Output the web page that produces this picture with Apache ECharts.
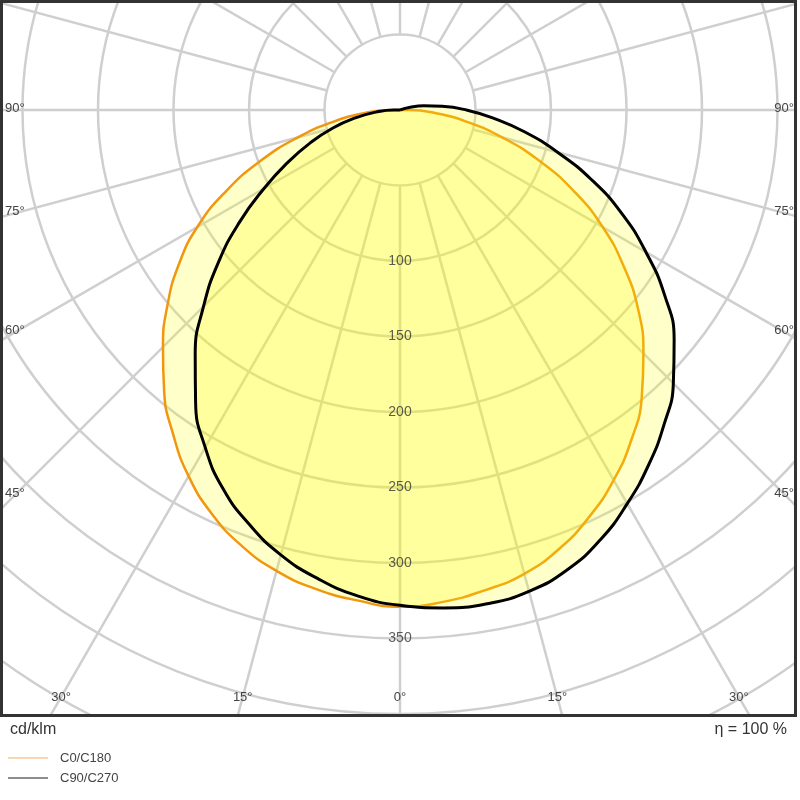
<!DOCTYPE html>
<html><head><meta charset="utf-8">
<script src="https://cdn.jsdelivr.net/npm/echarts@6/dist/echarts.min.js"></script>
<style>html,body{margin:0;padding:0;background:#fff}#c{width:800px;height:800px}</style>
</head><body><div id="c"></div>
<script>
// angles in degrees, 0 = straight down, positive = right side
const anglesO = [-90,-85,-80,-75,-70,-65,-60,-55,-50,-45,-40,-35,-30,-25,-20,-15,-10,-5,0,5,10,15,20,25,30,35,40,45,50,55,60,65,70,75,80,85,90];
const c0c180 = [6,24,45,70,98,127,155,179,201,222,243,262,280,295,307,316,322,326,329,327,323,318,309,297,283,267,249,228,206,181,155,127,98,70,45,24,6];
const anglesB = [-90,-85,-80,-75,-70,-65,-60,-55,-50,-45,-40,-35,-30,-25,-20,-15,-10,-5,0,5,10,15,20,25,30,35,40,45,50,55,60,65,70,75,80,85,90,95,100,105,110];
const c90c270 = [4,16,30,46,63,82,104,130,157,184,211,236,258,277,292,305,315,323,328,331,332,330,324,314,301,287,272,256,237,214,188,162,135,108,84,62,44,28,16,7,0];
const radiusTicks = [100,150,200,250,300,350];
const gridAngles = [0,15,30,45,60,75,90,105,120,135,150,165,180,195,210,225,240,255,270,285,300,315,330,345];
const sideLabels = [{t:'90°',a:90},{t:'75°',a:75},{t:'60°',a:60},{t:'45°',a:45}];
const bottomLabels = [{t:'30°',a:-30},{t:'15°',a:-15},{t:'0°',a:0},{t:'15°',a:15},{t:'30°',a:30}];

const CX=400, CY=110, PX=1.51, RMAX=500;
const toA = a => (a<0?a+360:a);
function curve(angles, vals){ const d=[[0,0]]; angles.forEach((a,i)=>d.push([vals[i],toA(a)])); d.push([0,0]); return d; }

const series = [];
gridAngles.forEach(a=>series.push({type:'line',coordinateSystem:'polar',data:[[50,a],[RMAX,a]],symbol:'none',silent:true,
  lineStyle:{color:'#cfcfcf',width:2.5},z:1}));
series.push({type:'line',coordinateSystem:'polar',name:'C0/C180',data:curve(anglesO,c0c180),symbol:'none',smooth:true,
  lineStyle:{color:'#f0960f',width:2.5},areaStyle:{color:'rgba(255,255,0,0.3)',origin:'start'},z:3});
series.push({type:'line',coordinateSystem:'polar',name:'C90/C270',data:curve(anglesB,c90c270),symbol:'none',smooth:true,
  lineStyle:{color:'#000',width:3},areaStyle:{color:'rgba(255,255,0,0.3)',origin:'start'},z:4});
series.push({type:'scatter',coordinateSystem:'polar',data:radiusTicks.map(v=>[v,0]),symbolSize:0,silent:true,z:5,
  label:{show:true,position:'inside',formatter:p=>String(p.data[0]),color:'#333',fontSize:14,fontFamily:'Liberation Sans'}});

const g = [];
g.push({type:'rect',shape:{x:0,y:716,width:800,height:84},style:{fill:'#fff'},z:100});
g.push({type:'rect',shape:{x:797,y:0,width:3,height:800},style:{fill:'#fff'},z:100});
g.push({type:'rect',shape:{x:1.5,y:1.5,width:794,height:714},style:{fill:null,stroke:'#333',lineWidth:3},z:101});
const tf = {fontFamily:'Liberation Sans',fill:'#444',fontSize:13};
sideLabels.forEach(s=>{
  const y = CY + 385/Math.tan(s.a*Math.PI/180) - 2;
  g.push({type:'text',x:5,y:y,z:102,style:Object.assign({text:s.t,textAlign:'left',textVerticalAlign:'middle'},tf)});
  g.push({type:'text',x:794,y:y,z:102,style:Object.assign({text:s.t,textAlign:'right',textVerticalAlign:'middle'},tf)});
});
bottomLabels.forEach(s=>{
  const x = CX + 587*Math.tan(s.a*Math.PI/180);
  g.push({type:'text',x:x,y:697,z:102,style:Object.assign({text:s.t,textAlign:'center',textVerticalAlign:'middle'},tf)});
});
g.push({type:'text',x:10,y:730,z:102,style:{text:'cd/klm',fontFamily:'Liberation Sans',fontSize:16,fill:'#333',textVerticalAlign:'middle'}});
g.push({type:'text',x:787,y:730,z:102,style:{text:'η = 100 %',fontFamily:'Liberation Sans',fontSize:16,fill:'#333',textAlign:'right',textVerticalAlign:'middle'}});
g.push({type:'line',shape:{x1:8,y1:758,x2:48,y2:758},style:{stroke:'#f5c89a',lineWidth:1.5},z:102});
g.push({type:'line',shape:{x1:8,y1:778,x2:48,y2:778},style:{stroke:'#666',lineWidth:1.5},z:102});
g.push({type:'text',x:60,y:758,z:102,style:{text:'C0/C180',fontFamily:'Liberation Sans',fontSize:13,fill:'#444',textVerticalAlign:'middle'}});
g.push({type:'text',x:60,y:778,z:102,style:{text:'C90/C270',fontFamily:'Liberation Sans',fontSize:13,fill:'#444',textVerticalAlign:'middle'}});

const chart = echarts.init(document.getElementById('c'));
chart.setOption({
  animation:false,
  backgroundColor:'#fff',
  polar:{center:[CX,CY],radius:RMAX*PX},
  angleAxis:{type:'value',min:0,max:360,startAngle:-90,clockwise:false,interval:15,
    axisLine:{show:false},axisTick:{show:false},axisLabel:{show:false},splitLine:{show:false}},
  radiusAxis:{type:'value',min:0,max:RMAX,interval:50,axisLine:{show:false},axisTick:{show:false},axisLabel:{show:false},
    splitLine:{show:true,lineStyle:{color:'#cfcfcf',width:2.5}}},
  series:series,
  graphic:g
});
</script></body></html>
